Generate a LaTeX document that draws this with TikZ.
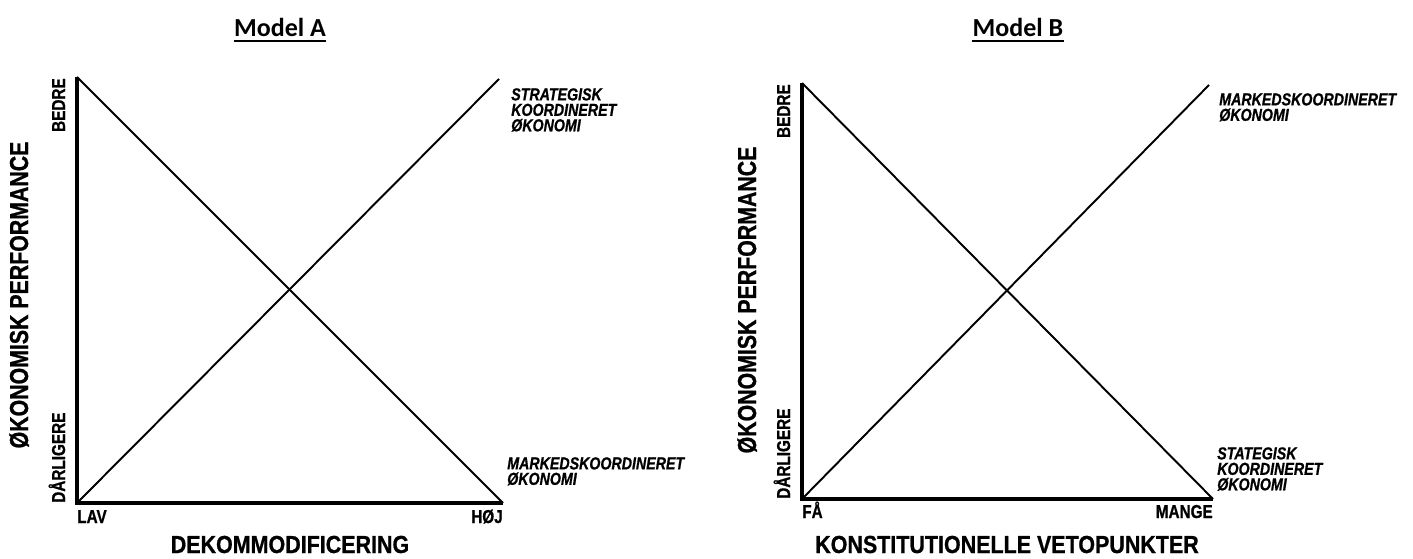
\documentclass[tikz,border=0pt]{standalone}
\usepackage{fontspec}
\newfontfamily\labfont[FakeStretch=0.82,FakeBold=0.8]{Liberation Sans}
\newfontfamily\bigfont[FakeStretch=0.87,FakeBold=0.8]{Liberation Sans}
\newfontfamily\titlefont{Carlito}
\tikzset{
  axisline/.style={line width=2.3pt},
  diag/.style={line width=1.45pt},
  small/.style={font=\labfont\bfseries\fontsize{14}{15}\selectfont, inner sep=0pt},
  big/.style={font=\bigfont\bfseries\fontsize{18.5}{20}\selectfont, inner sep=0pt},
  ylab/.style={font=\labfont\bfseries\fontsize{19.5}{21}\selectfont, inner sep=0pt, rotate=90, anchor=base},
  econ/.style={font=\labfont\bfseries\itshape\fontsize{13}{11.6}\selectfont, inner sep=0pt, align=left, anchor=north west},
  ttl/.style={font=\titlefont\bfseries\fontsize{19.5}{22}\selectfont, inner sep=0pt, anchor=base},
  uline/.style={line width=1.5pt}
}
\begin{document}
\begin{tikzpicture}[x=0.75pt,y=-0.75pt]
\fill[white] (0,0) rectangle (1413,559);
\useasboundingbox (0,0) rectangle (1413,559);

% ---------- Model A ----------
\node[ttl] (tA) at (280,37) {Model A};
\draw[uline] ([yshift=-3.3pt]tA.base west) -- ([yshift=-3.3pt]tA.base east);

\coordinate (Atl) at (77,77);
\coordinate (Abl) at (77,503);
\coordinate (Abr) at (503,503);
\coordinate (Atr) at (499,79);
\draw[axisline] (Atl) -- (Abl) -- (Abr);
\draw[diag] (Atl) -- (Abr);
\draw[diag] (Abl) -- (Atr);

\node[ylab] (yA) at (28,295) {ØKONOMISK PERFORMANCE};
\node[small, rotate=90, anchor=base east] (bA) at (65,78) {BEDRE};
\node[small, rotate=90, anchor=base west] (dA) at (65,503) {DÅRLIGERE};
\node[small, anchor=base west] (lA) at (77,523) {LAV};
\node[small, anchor=base east] (hA) at (503,523) {HØJ};
\node[big, anchor=base] (xA) at (290,553) {DEKOMMODIFICERING};
\node[econ] (sA) at (511,88) {STRATEGISK\\KOORDINERET\\ØKONOMI};
\node[econ] (mA) at (507,457) {MARKEDSKOORDINERET\\ØKONOMI};

% ---------- Model B ----------
\node[ttl] (tB) at (1018,37) {Model B};
\draw[uline] ([yshift=-3.3pt]tB.base west) -- ([yshift=-3.3pt]tB.base east);

\coordinate (Btl) at (802,83);
\coordinate (Bbl) at (802,499);
\coordinate (Bbr) at (1213,499);
\coordinate (Btr) at (1209,85);
\draw[axisline] (Btl) -- (Bbl) -- (Bbr);
\draw[diag] (Btl) -- (Bbr);
\draw[diag] (Bbl) -- (Btr);

\node[ylab] (yB) at (756,300) {ØKONOMISK PERFORMANCE};
\node[small, rotate=90, anchor=base east] (bB) at (790,84) {BEDRE};
\node[small, rotate=90, anchor=base west] (dB) at (790,499) {DÅRLIGERE};
\node[small, anchor=base west] (lB) at (802,518) {FÅ};
\node[small, anchor=base east] (hB) at (1213,518) {MANGE};
\node[big, anchor=base] (xB) at (1007,553) {KONSTITUTIONELLE VETOPUNKTER};
\node[econ] (mB) at (1219,93) {MARKEDSKOORDINERET\\ØKONOMI};
\node[econ] (sB) at (1217,447) {STATEGISK\\KOORDINERET\\ØKONOMI};
\end{tikzpicture}
\end{document}
